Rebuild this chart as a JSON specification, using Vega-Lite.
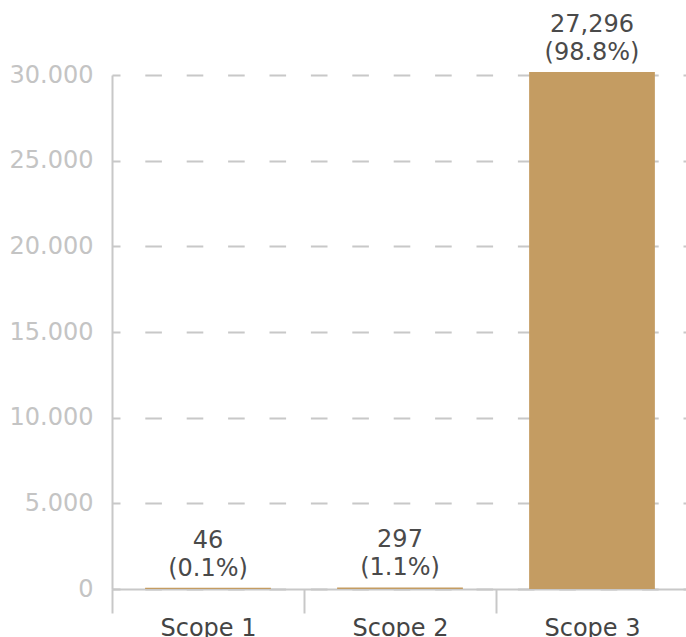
{
  "$schema": "https://vega.github.io/schema/vega-lite/v6.json",
  "autosize": "none",
  "padding": {"left": 112, "top": 75, "right": 0, "bottom": 48},
  "width": 576,
  "height": 514,
  "background": "white",
  "config": {
    "view": {"stroke": null},
    "font": "DejaVu Sans"
  },
  "data": {
    "values": [
      {"scope": "Scope 1", "value": 70, "label": "46\n(0.1%)"},
      {"scope": "Scope 2", "value": 90, "label": "297\n(1.1%)"},
      {"scope": "Scope 3", "value": 30175, "label": "27,296\n(98.8%)"}
    ]
  },
  "encoding": {
    "x": {
      "field": "scope",
      "type": "nominal",
      "sort": null,
      "scale": {"paddingInner": 0, "paddingOuter": 0},
      "axis": {
        "title": null,
        "labelAngle": 0,
        "tickBand": "extent",
        "domainColor": "#c8c8c8",
        "domainWidth": 2,
        "tickColor": "#c8c8c8",
        "tickWidth": 2,
        "tickSize": 24,
        "labelFont": "DejaVu Sans",
        "labelFontSize": 24,
        "labelColor": "#444444",
        "labelPadding": 3,
        "grid": false
      }
    },
    "y": {
      "field": "value",
      "type": "quantitative",
      "scale": {"domain": [0, 30000], "nice": false},
      "axis": {
        "title": null,
        "values": [0, 5000, 10000, 15000, 20000, 25000, 30000],
        "labelExpr": "replace(format(datum.value, ','), ',', '.')",
        "ticks": false,
        "domainColor": "#c8c8c8",
        "domainWidth": 2,
        "grid": true,
        "gridColor": "#c8c8c8",
        "gridWidth": 2,
        "gridDash": [16.6, 24.8],
        "gridDashOffset": 8.6,
        "labelFont": "DejaVu Sans",
        "labelFontSize": 24,
        "labelColor": "#c4c4c4",
        "labelPadding": 19
      }
    }
  },
  "layer": [
    {
      "mark": {"type": "bar", "color": "#c49c62", "width": {"band": 0.655}}
    },
    {
      "mark": {
        "type": "text",
        "font": "DejaVu Sans",
        "fontSize": 24,
        "color": "#4a4a4a",
        "baseline": "bottom",
        "lineBreak": "\n",
        "lineHeight": 28,
        "dy": -35
      },
      "encoding": {
        "text": {"field": "label"}
      }
    }
  ]
}
